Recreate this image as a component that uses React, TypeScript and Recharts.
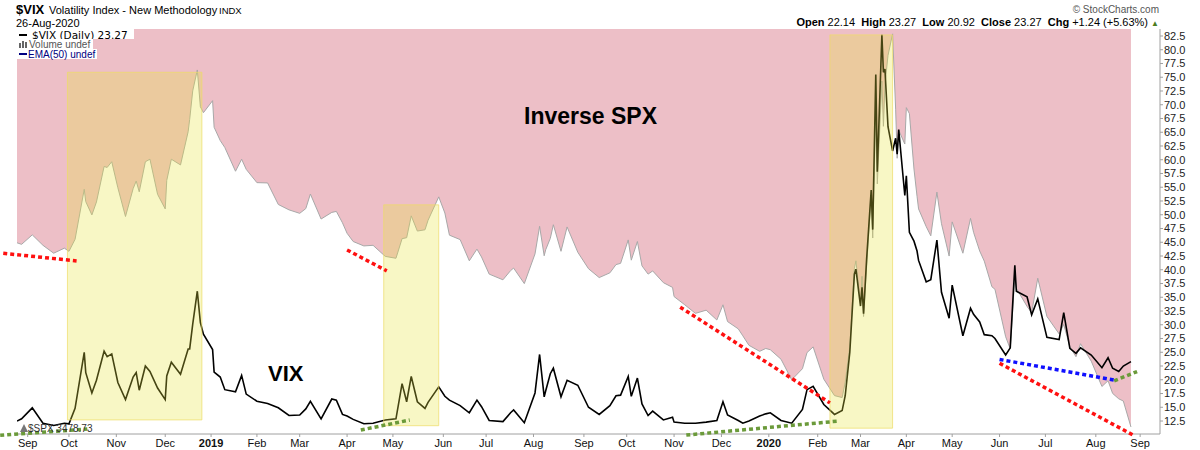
import React from "react";
import {
  ComposedChart,
  Area,
  Line,
  XAxis,
  YAxis,
  ReferenceArea,
  ReferenceLine,
} from "recharts";

// closes (one line per month)
const dates = [
  "2018-08-28", "2018-08-31", "2018-09-07", "2018-09-14", "2018-09-21", "2018-09-28",
  "2018-10-01", "2018-10-05", "2018-10-11", "2018-10-12", "2018-10-16", "2018-10-19", "2018-10-24", "2018-10-26", "2018-10-29",
  "2018-11-02", "2018-11-07", "2018-11-12", "2018-11-14", "2018-11-16", "2018-11-20", "2018-11-23", "2018-11-28",
  "2018-12-03", "2018-12-04", "2018-12-07", "2018-12-13", "2018-12-18", "2018-12-19", "2018-12-21", "2018-12-24", "2018-12-26", "2018-12-28",
  "2019-01-03", "2019-01-04", "2019-01-08", "2019-01-11", "2019-01-18", "2019-01-22", "2019-01-25",
  "2019-02-01", "2019-02-08", "2019-02-15", "2019-02-22",
  "2019-03-01", "2019-03-05", "2019-03-08", "2019-03-15", "2019-03-22", "2019-03-25", "2019-03-29",
  "2019-04-01", "2019-04-05", "2019-04-12", "2019-04-18", "2019-04-26",
  "2019-05-03", "2019-05-07", "2019-05-10", "2019-05-13", "2019-05-17", "2019-05-22", "2019-05-24", "2019-05-31",
  "2019-06-04", "2019-06-07", "2019-06-14", "2019-06-20", "2019-06-25", "2019-06-28",
  "2019-07-03", "2019-07-12", "2019-07-17", "2019-07-19", "2019-07-26",
  "2019-08-02", "2019-08-05", "2019-08-08", "2019-08-09", "2019-08-12", "2019-08-14", "2019-08-19", "2019-08-23", "2019-08-30",
  "2019-09-06", "2019-09-13", "2019-09-20", "2019-09-24", "2019-09-27",
  "2019-10-02", "2019-10-04", "2019-10-08", "2019-10-11", "2019-10-15", "2019-10-18", "2019-10-25", "2019-10-31",
  "2019-11-01", "2019-11-08", "2019-11-15", "2019-11-22", "2019-11-29",
  "2019-12-03", "2019-12-06", "2019-12-13", "2019-12-16", "2019-12-20", "2019-12-27", "2019-12-31",
  "2020-01-03", "2020-01-10", "2020-01-17", "2020-01-24", "2020-01-27", "2020-01-31",
  "2020-02-07", "2020-02-14", "2020-02-19", "2020-02-21", "2020-02-24", "2020-02-27", "2020-02-28",
  "2020-03-02", "2020-03-03", "2020-03-04", "2020-03-06", "2020-03-09", "2020-03-10", "2020-03-12", "2020-03-13", "2020-03-16",
  "2020-03-17", "2020-03-18", "2020-03-20", "2020-03-23", "2020-03-25", "2020-03-26", "2020-03-27", "2020-03-31",
  "2020-04-01", "2020-04-03", "2020-04-06", "2020-04-08", "2020-04-09", "2020-04-14", "2020-04-17", "2020-04-21", "2020-04-24", "2020-04-29",
  "2020-05-01", "2020-05-08", "2020-05-13", "2020-05-15", "2020-05-19", "2020-05-22", "2020-05-27", "2020-05-29",
  "2020-06-05", "2020-06-08", "2020-06-11", "2020-06-12", "2020-06-19", "2020-06-22", "2020-06-26",
  "2020-07-02", "2020-07-10", "2020-07-13", "2020-07-17", "2020-07-21", "2020-07-24", "2020-07-31",
  "2020-08-07", "2020-08-11", "2020-08-14", "2020-08-18", "2020-08-21", "2020-08-26",
];

const vixClose = [
  12.5, 12.9, 14.9, 12.1, 11.7, 12.1,
  12.0, 14.8, 25.0, 21.3, 17.6, 19.9, 25.2, 24.2, 24.7,
  19.5, 16.4, 20.5, 21.3, 18.1, 22.5, 21.5, 18.5,
  16.4, 20.7, 23.2, 21.0, 25.6, 25.6, 30.1, 36.1, 30.4, 28.3,
  25.5, 21.4, 20.5, 18.2, 17.8, 20.8, 17.4,
  16.1, 15.7, 14.9, 13.5,
  13.6, 14.7, 16.1, 12.9, 16.5, 16.3, 13.7,
  13.4, 12.8, 12.0, 12.1, 12.7,
  12.9, 19.3, 16.0, 20.6, 16.0, 14.8, 15.9, 18.7,
  17.0, 16.3, 15.3, 14.0, 16.3, 15.1,
  12.6, 12.4, 14.0, 14.5, 12.2,
  17.6, 24.6, 16.9, 18.0, 21.1, 22.1, 16.9, 19.9, 19.0,
  15.0, 13.7, 15.3, 17.1, 17.2,
  20.6, 17.0, 20.3, 15.6, 13.5, 14.3, 12.7, 13.2,
  12.3, 12.1, 12.1, 12.3, 12.6,
  16.0, 13.6, 12.6, 12.1, 12.5, 13.4, 13.8,
  14.0, 12.6, 12.1, 14.6, 18.2, 18.8,
  15.5, 13.7, 14.4, 17.1, 25.0, 39.2, 40.1,
  33.4, 36.8, 32.0, 41.9, 54.5, 47.3, 75.5, 57.8, 82.7,
  75.9, 76.5, 66.0, 61.6, 63.9, 61.0, 65.5, 53.5,
  57.1, 46.8, 45.2, 43.4, 41.7, 37.8, 38.2, 45.4, 35.9, 31.2,
  37.2, 28.0, 33.0, 31.9, 30.5, 28.2, 28.0, 27.5,
  24.5, 25.8, 40.8, 36.1, 35.1, 31.8, 34.7,
  27.7, 27.3, 32.2, 25.7, 24.8, 25.8, 24.5,
  22.2, 24.0, 22.1, 21.5, 22.5, 23.3,
];

const spxClose = [
  2897, 2902, 2872, 2905, 2930, 2914,
  2924, 2886, 2728, 2767, 2809, 2768, 2656, 2659, 2641,
  2723, 2814, 2726, 2702, 2736, 2641, 2633, 2744,
  2790, 2700, 2633, 2651, 2546, 2507, 2417, 2351, 2467, 2486,
  2448, 2532, 2574, 2596, 2671, 2633, 2665,
  2707, 2708, 2776, 2793,
  2804, 2789, 2743, 2822, 2801, 2798, 2834,
  2867, 2893, 2907, 2905, 2940,
  2946, 2884, 2881, 2812, 2860, 2856, 2826, 2752,
  2803, 2873, 2887, 2954, 2917, 2942,
  2996, 3014, 2985, 2977, 3026,
  2932, 2845, 2938, 2919, 2883, 2840, 2924, 2847, 2927,
  2979, 3007, 2992, 2966, 2962,
  2888, 2952, 2893, 2970, 2996, 2986, 3023, 3038,
  3067, 3093, 3120, 3110, 3141,
  3093, 3146, 3169, 3191, 3221, 3240, 3231,
  3235, 3265, 3330, 3295, 3244, 3226,
  3328, 3380, 3386, 3338, 3226, 2979, 2954,
  3090, 3003, 3130, 2972, 2747, 2882, 2481, 2711, 2386,
  2529, 2398, 2305, 2237, 2475, 2630, 2541, 2585,
  2470, 2489, 2664, 2750, 2790, 2846, 2875, 2737, 2837, 2939,
  2831, 2930, 2820, 2864, 2923, 2955, 3036, 3044,
  3194, 3232, 3002, 3041, 3098, 3118, 3009,
  3130, 3185, 3155, 3225, 3257, 3216, 3271,
  3351, 3333, 3373, 3390, 3397, 3479,
];

const xTickDates = [
  "2018-09-04", "2018-10-01", "2018-11-01", "2018-12-03", "2019-01-02", "2019-02-01",
  "2019-03-01", "2019-04-01", "2019-05-01", "2019-06-03", "2019-07-01", "2019-08-01",
  "2019-09-03", "2019-10-01", "2019-11-01", "2019-12-02", "2020-01-02", "2020-02-03",
  "2020-03-02", "2020-04-01", "2020-05-01", "2020-06-01", "2020-07-01", "2020-08-03",
  "2020-09-01",
];
const xTickLabels = [
  "Sep", "Oct", "Nov", "Dec", "2019", "Feb", "Mar", "Apr", "May", "Jun", "Jul", "Aug",
  "Sep", "Oct", "Nov", "Dec", "2020", "Feb", "Mar", "Apr", "May", "Jun", "Jul", "Aug",
  "Sep",
];
const yTicks = [
  12.5, 15, 17.5, 20, 22.5, 25, 27.5, 30, 32.5, 35, 37.5, 40, 42.5, 45, 47.5, 50,
  52.5, 55, 57.5, 60, 62.5, 65, 67.5, 70, 72.5, 75, 77.5, 80, 82.5,
];

// highlighted periods: [from, to, top, bottom]
const boxes: [string, string, number, number][] = [
  ["2018-09-30", "2018-12-27", 75.9, 12.7],
  ["2019-04-25", "2019-05-31", 51.8, 11.65],
  ["2020-02-11", "2020-03-23", 82.7, 11.2],
];

// drawn trend lines: [from, value, to, value]
const redTrends: [string, number, string, number][] = [
  ["2018-08-19", 43.0, "2018-10-06", 41.6],
  ["2019-04-01", 43.6, "2019-04-27", 39.8],
  ["2019-11-05", 33.2, "2020-02-11", 15.8],
  ["2020-06-01", 23.0, "2020-08-27", 10.0],
];
const blueTrends: [string, number, string, number][] = [
  ["2020-06-01", 23.7, "2020-08-15", 19.95],
];
const greenTrends: [string, number, string, number][] = [
  ["2018-08-17", 9.9, "2018-10-13", 11.05],
  ["2019-04-10", 10.86, "2019-05-12", 12.68],
  ["2019-11-09", 9.95, "2020-02-17", 12.5],
  ["2020-08-15", 19.8, "2020-08-30", 21.5],
];

// inverse SPX overlay scale onto the VIX axis
const INV_A = 211.6;
const INV_B = 0.05754;

const Y_MIN = 10.14;
const Y_MAX = 83.77;

const day = (s: string) =>
  Date.UTC(+s.slice(0, 4), +s.slice(5, 7) - 1, +s.slice(8, 10)) / 86400000;

const X_MIN = day("2018-08-28");
const X_MAX = day("2020-09-14");

const rows = dates.map((d, i) => ({
  t: day(d),
  vix: vixClose[i],
  inv: INV_A - INV_B * spxClose[i],
}));

const xTickDays = xTickDates.map(day);

const FONT = "'Liberation Sans', Arial, sans-serif";

function XTick(props: any) {
  const { x, y, payload } = props;
  const i = xTickDays.indexOf(payload.value);
  const label = xTickLabels[i] ?? "";
  const bold = /^\d{4}$/.test(label);
  return (
    <text
      x={x}
      y={y}
      dy={7.5}
      textAnchor="middle"
      fontSize={11}
      fontWeight={bold ? 700 : 400}
      fill="#111"
      fontFamily={FONT}
    >
      {label}
    </text>
  );
}

function Txt({ left, right, top, size, style, children }: any) {
  return (
    <div
      style={{
        position: "absolute",
        left,
        right,
        top,
        fontSize: size,
        lineHeight: 1,
        whiteSpace: "nowrap",
        fontFamily: FONT,
        ...style,
      }}
    >
      {children}
    </div>
  );
}

const segLine = (s: [string, number, string, number], color: string, key: string) => (
  <ReferenceLine
    key={key}
    segment={[
      { x: day(s[0]), y: s[1] },
      { x: day(s[2]), y: s[3] },
    ]}
    stroke={color}
    strokeWidth={3.5}
    strokeDasharray="4 3"
    ifOverflow="visible"
    zIndex={900}
  />
);

export default function App() {
  return (
    <div
      style={{
        position: "absolute",
        left: 0,
        top: 0,
        width: 1200,
        height: 450,
        background: "#fff",
        fontFamily: FONT,
        overflow: "hidden",
      }}
    >
      <ComposedChart
        width={1200}
        height={450}
        data={rows}
        margin={{ top: 29, right: 0, bottom: 0, left: 17 }}
      >
        <XAxis
          type="number"
          dataKey="t"
          domain={[X_MIN, X_MAX]}
          allowDataOverflow
          ticks={xTickDays}
          interval={0}
          tick={<XTick />}
          tickSize={3}
          height={16}
          stroke="#a0a0a0"
        />
        <YAxis
          orientation="right"
          domain={[Y_MIN, Y_MAX]}
          allowDataOverflow
          ticks={yTicks}
          interval={0}
          width={40}
          tickSize={3}
          tickMargin={1}
          tickFormatter={(v: number) => v.toFixed(1)}
          tick={{ fontSize: 11, fill: "#222", fontFamily: FONT }}
          stroke="#a0a0a0"
        />
        <YAxis
          yAxisId="frame"
          orientation="left"
          width={0}
          domain={[Y_MIN, Y_MAX]}
          tick={false}
          tickLine={false}
          stroke="#a0a0a0"
        />
        <Area
          type="linear"
          dataKey={(r: any) => [r.inv, Y_MAX]}
          stroke="none"
          fill="#EDBFC7"
          fillOpacity={1}
          isAnimationActive={false}
        />
        <Line
          type="linear"
          dataKey="inv"
          stroke="#a8a8a8"
          strokeWidth={1}
          dot={false}
          isAnimationActive={false}
        />
        <Line
          type="linear"
          dataKey="vix"
          stroke="#000"
          strokeWidth={1.6}
          dot={false}
          isAnimationActive={false}
        />
        {boxes.map((b, i) => (
          <ReferenceArea
            key={"box" + i}
            x1={day(b[0])}
            x2={day(b[1])}
            y1={b[3]}
            y2={b[2]}
            fill="#E8E43E"
            fillOpacity={0.3}
            stroke="#EEDD66"
            strokeOpacity={0.7}
            ifOverflow="visible"
            zIndex={800}
          />
        ))}
        {redTrends.map((s, i) => segLine(s, "#FF1010", "r" + i))}
        {blueTrends.map((s, i) => segLine(s, "#1010FF", "b" + i))}
        {greenTrends.map((s, i) => segLine(s, "#6B9A3A", "g" + i))}
      </ComposedChart>

      {/* header */}
      <Txt left={16} top={3} size={13} style={{ fontWeight: 700 }}>$VIX</Txt>
      <Txt left={49} top={4.7} size={11}>Volatility Index - New Methodology</Txt>
      <Txt left={219} top={6} size={9.5}>INDX</Txt>
      <Txt left={16} top={17.7} size={11}>26-Aug-2020</Txt>
      <Txt right={41} top={4.5} size={10} style={{ color: "#555" }}>© StockCharts.com</Txt>
      <Txt right={41} top={16.7} size={11}>
        <b>Open</b> 22.14&nbsp; <b>High</b> 23.27&nbsp; <b>Low</b> 20.92&nbsp; <b>Close</b> 23.27&nbsp;{" "}
        <b>Chg</b> +1.24 (+5.63%) <span style={{ color: "#4b7d1e", fontSize: 8 }}>▲</span>
      </Txt>

      {/* legend box */}
      <div style={{ position: "absolute", left: 17, top: 29, width: 117, height: 10, background: "#fff" }} />
      <div style={{ position: "absolute", left: 19, top: 33.5, width: 8, height: 2.5, background: "#000" }} />
      <Txt left={32} top={29.5} size={10.5} style={{ fontFamily: "'DejaVu Sans', sans-serif" }}>
        $VIX (Daily) 23.27
      </Txt>
      <div style={{ position: "absolute", left: 17, top: 39, width: 76, height: 10, background: "#fff" }} />
      <div style={{ position: "absolute", left: 19, top: 43, width: 2, height: 5, background: "#666" }} />
      <div style={{ position: "absolute", left: 22, top: 41, width: 2, height: 7, background: "#666" }} />
      <div style={{ position: "absolute", left: 25, top: 42, width: 2, height: 6, background: "#666" }} />
      <Txt left={29} top={39.5} size={10} style={{ color: "#555" }}>Volume undef</Txt>
      <div style={{ position: "absolute", left: 17, top: 49, width: 80, height: 10, background: "#fff" }} />
      <div style={{ position: "absolute", left: 19, top: 52.5, width: 8, height: 2.5, background: "#000080" }} />
      <Txt left={28} top={49.5} size={10} style={{ color: "#000080" }}>EMA(50) undef</Txt>

      {/* overlay label */}
      <div
        style={{
          position: "absolute",
          left: 20,
          top: 424,
          width: 0,
          height: 0,
          borderLeft: "4px solid transparent",
          borderRight: "4px solid transparent",
          borderBottom: "8px solid #777",
        }}
      />
      <Txt left={28} top={423.5} size={10} style={{ color: "#333" }}>$SPX 3478.73</Txt>

      {/* annotations */}
      <Txt left={524} top={104.5} size={23} style={{ fontWeight: 700 }}>Inverse SPX</Txt>
      <Txt left={268} top={363.4} size={22} style={{ fontWeight: 700 }}>VIX</Txt>
    </div>
  );
}
